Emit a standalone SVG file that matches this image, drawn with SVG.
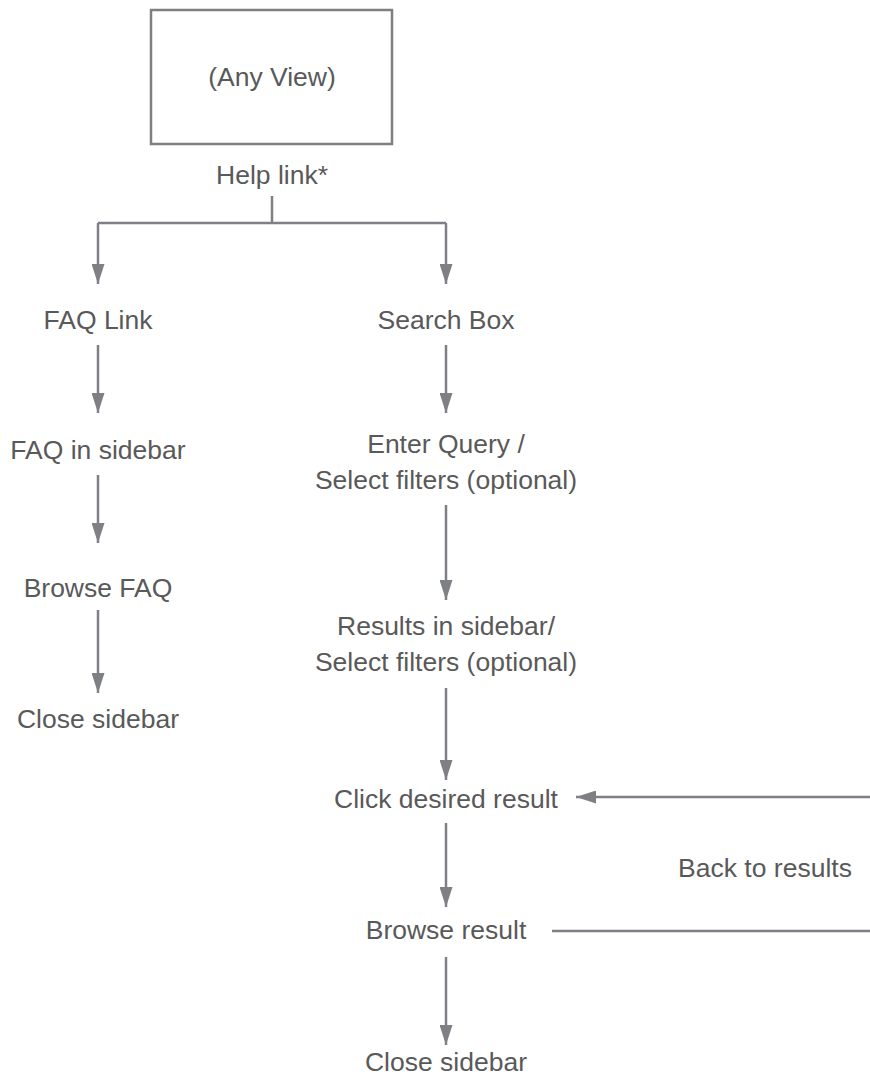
<svg xmlns="http://www.w3.org/2000/svg" width="870" height="1080" viewBox="0 0 870 1080">
  <defs>
    <marker id="arrow" viewBox="0 0 20 13" refX="20" refY="6.5" markerWidth="20" markerHeight="13" markerUnits="userSpaceOnUse" orient="auto">
      <path d="M0,0 L20,6.5 L0,13 Z" fill="#7f8085"/>
    </marker>
    <style>
      text { font-family: "Liberation Sans", Arial, sans-serif; font-size: 26.5px; fill: #595959; text-anchor: middle; }
      .link { stroke: #7f8085; stroke-width: 2.5; fill: none; }
      .arr { marker-end: url(#arrow); }
      .frame { stroke: #7f7f7f; stroke-width: 2.5; fill: #ffffff; }
    </style>
  </defs>
  <rect width="870" height="1080" fill="#ffffff"/>

  <!-- connectors -->
  <g id="connectors">
    <line class="link" x1="272" y1="196" x2="272" y2="223"/>
    <line class="link" x1="98" y1="223" x2="446" y2="223"/>
    <line class="link arr" x1="98" y1="223" x2="98" y2="284"/>
    <line class="link arr" x1="446" y1="223" x2="446" y2="284"/>
    <line class="link arr" x1="98" y1="345" x2="98" y2="413"/>
    <line class="link arr" x1="98" y1="475" x2="98" y2="543"/>
    <line class="link arr" x1="98" y1="610" x2="98" y2="693"/>
    <line class="link arr" x1="446" y1="345" x2="446" y2="413"/>
    <line class="link arr" x1="446" y1="505" x2="446" y2="600"/>
    <line class="link arr" x1="446" y1="688" x2="446" y2="780"/>
    <line class="link arr" x1="446" y1="823" x2="446" y2="907"/>
    <line class="link arr" x1="446" y1="957" x2="446" y2="1045"/>
    <line class="link" x1="552" y1="931" x2="870" y2="931"/>
    <line class="link arr" x1="870" y1="797" x2="576" y2="797"/>
  </g>

  <g id="any-view">
    <rect class="frame" x="151" y="10" width="241" height="134"/>
    <text x="272" y="86">(Any View)</text>
  </g>
  <g id="help-link"><text x="272" y="184">Help link*</text></g>
  <g id="faq-link"><text x="98" y="329">FAQ Link</text></g>
  <g id="search-box"><text x="446" y="329">Search Box</text></g>
  <g id="faq-sidebar"><text x="98" y="459">FAQ in sidebar</text></g>
  <g id="enter-query">
    <text x="446" y="453">Enter Query /</text>
    <text x="446" y="489">Select filters (optional)</text>
  </g>
  <g id="browse-faq"><text x="98" y="597">Browse FAQ</text></g>
  <g id="results-sidebar">
    <text x="446" y="635">Results in sidebar/</text>
    <text x="446" y="671">Select filters (optional)</text>
  </g>
  <g id="close-faq"><text x="98" y="728">Close sidebar</text></g>
  <g id="click-result"><text x="446" y="808">Click desired result</text></g>
  <g id="back-results"><text x="765" y="877">Back to results</text></g>
  <g id="browse-result"><text x="446" y="939">Browse result</text></g>
  <g id="close-search"><text x="446" y="1071">Close sidebar</text></g>
</svg>
